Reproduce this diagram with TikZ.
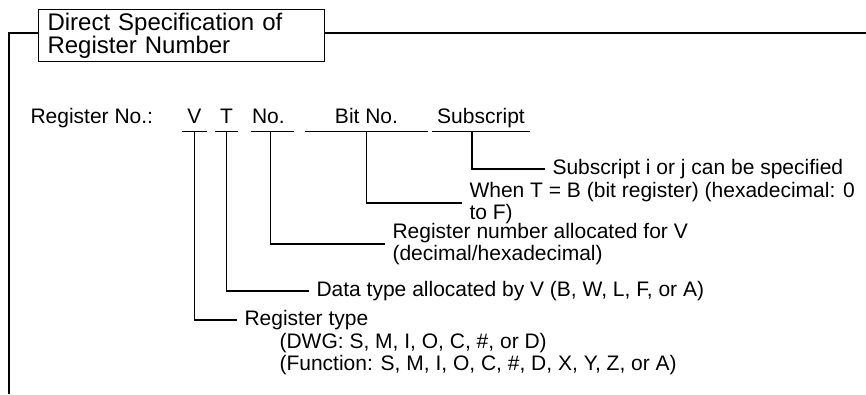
\documentclass[tikz,border=0pt]{standalone}
\usepackage{fontspec}
\setmainfont{Liberation Sans}
\usetikzlibrary{positioning}

\begin{document}
\begin{tikzpicture}[x=1pt, y=-1pt, line width=1.1pt,
  every node/.style={font=\fontsize{21}{22}\selectfont},
  fld/.style={anchor=base, text depth=0pt, inner xsep=0pt, inner ysep=8pt, minimum width=#1},
  desc/.style={anchor=west, inner xsep=7pt, inner ysep=0pt, align=left}]
\useasboundingbox (0,0) rectangle (866,394);
% frame and title
\draw (9,394) -- (9,33) -- (866,33);
\node[draw, fill=white, anchor=north west, minimum height=52pt, text width=268pt, inner xsep=9pt, inner ysep=2pt, align=left, font=\fontsize{24}{22.5}\selectfont] (title) at (38,9) {Direct Specification of\\Register Number};
% register number fields
\node[anchor=base west, inner sep=0pt] (regno) at (30,123) {Register No.:};
\node[fld=23pt] (fV) at (194.5,123) {V};
\node[fld=21pt] (fT) at (226.5,123) {T};
\node[fld=41pt, text width=41pt, align=left] (fNo) at (272.5,123) {No.};
\node[fld=121pt] (fBit) at (366.5,123) {Bit No.};
\node[fld=96pt] (fSub) at (481,123) {Subscript};
\foreach \f in {fV,fT,fNo,fBit,fSub}
  \draw (\f.south west) -- (\f.south east);
% descriptions
\node[desc] (dSub) at (545,169) {Subscript i or j can be specified};
\node[desc] (dBit) at (462,203) {When T = B (bit register) (hexadecimal: 0\\to F)};
\node[desc] (dNo) at (385,244) {Register number allocated for V\\(decimal/hexadecimal)};
\node[desc] (dT) at (309,291) {Data type allocated by V (B, W, L, F, or A)};
\node[desc] (dV) at (237,320) {Register type};
\node[desc, below right=2pt and 35pt of dV.south west] (dVx) {(DWG: S, M, I, O, C, \#, or D)\\(Function: S, M, I, O, C, \#, D, X, Y, Z, or A)};
% leaders
\draw ([xshift=-9pt]fSub.south) |- (dSub.west);
\draw (fBit.south) |- (dBit.west);
\draw ([xshift=-2pt]fNo.south) |- (dNo.west);
\draw (fT.south) |- (dT.west);
\draw (fV.south) |- (dV.west);
\end{tikzpicture}
\end{document}
